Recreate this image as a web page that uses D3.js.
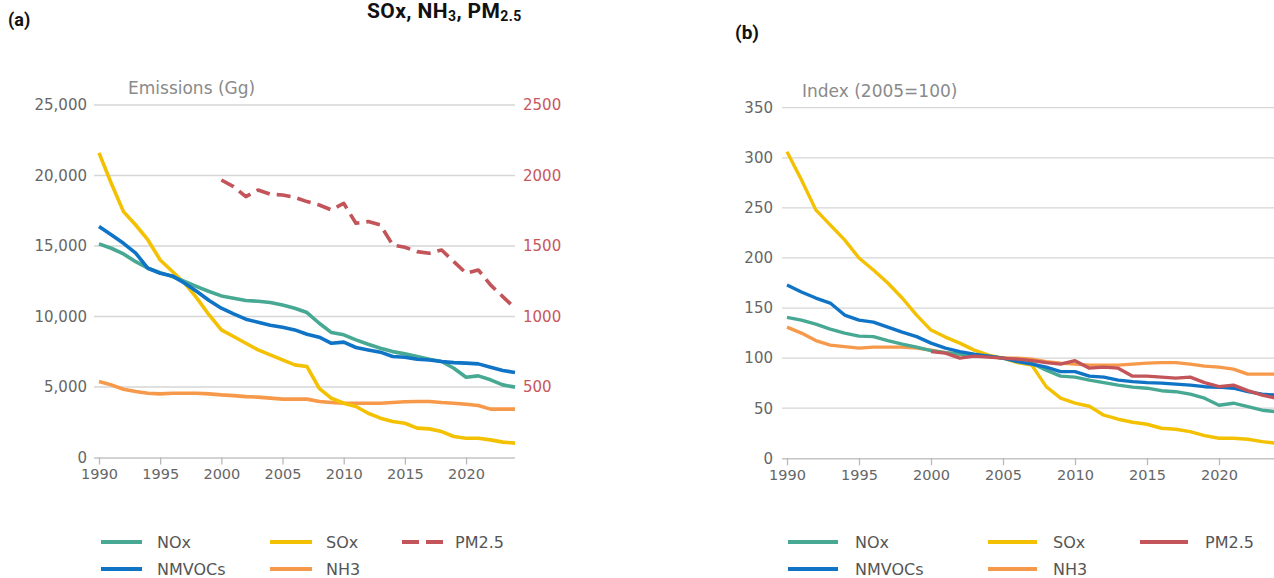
<!DOCTYPE html>
<html>
<head>
<meta charset="utf-8">
<script src="https://cdn.jsdelivr.net/npm/d3@7"></script>
<style>
  html, body { margin: 0; padding: 0; background: #ffffff; }
  svg { display: block; }
  text { font-family: "DejaVu Sans", sans-serif; }
</style>
</head>
<body>
<svg id="chart" width="1274" height="578"></svg>
<script>
// ---------- DATA ----------
const years = [1990,1991,1992,1993,1994,1995,1996,1997,1998,1999,2000,2001,2002,2003,2004,2005,2006,2007,2008,2009,2010,2011,2012,2013,2014,2015,2016,2017,2018,2019,2020,2021,2022,2023,2024];
const pmYears = [2000,2001,2002,2003,2004,2005,2006,2007,2008,2009,2010,2011,2012,2013,2014,2015,2016,2017,2018,2019,2020,2021,2022,2023,2024];

// Panel (a): emissions in Gg
const noxGg    = [15150,14840,14440,13890,13420,13110,12830,12480,12120,11770,11460,11300,11130,11080,10990,10820,10590,10280,9520,8860,8700,8340,8030,7750,7510,7350,7160,6970,6810,6330,5690,5790,5510,5150,4990];
const nmvocGg  = [16380,15790,15190,14490,13420,13070,12880,12360,11770,11130,10590,10180,9810,9590,9380,9240,9050,8740,8530,8100,8180,7800,7630,7470,7160,7110,6970,6920,6810,6730,6690,6640,6400,6170,6030];
const soxGg    = [21600,19450,17440,16490,15430,14010,13190,12360,11300,10110,9050,8580,8100,7630,7280,6920,6570,6450,4910,4200,3850,3620,3140,2790,2550,2430,2080,2030,1840,1490,1370,1370,1250,1090,1020];
const nh3Gg    = [5390,5150,4840,4680,4560,4510,4560,4560,4560,4510,4440,4390,4320,4280,4210,4140,4140,4140,3970,3900,3850,3850,3850,3850,3900,3950,3970,3970,3900,3850,3780,3690,3430,3430,3430];
const pm25Gg   = [1968,1921,1850,1897,1867,1862,1845,1815,1791,1756,1803,1661,1673,1649,1508,1491,1460,1449,1472,1389,1307,1330,1224,1141,1059];

// Panel (b): index 2005 = 100
const noxIdx   = [140.7,138,134,129,125,122,121.5,117.5,114,111,107.5,105.5,104,103,102,100,98,95,88,82,81,78,75.5,73,71,70,67.5,66.5,64,60,53,55,51.5,48,46.5];
const nmvocIdx = [173,166,160,155,143,138,136,131,126,121.5,115,110,106.5,104,102,100,96.5,94,91,86.5,86.5,82,81,78,76.5,75.5,75,74,73,71.5,71,70,66.5,64,63];
const soxIdx   = [306,278,248,233,218,200,188,175,160,143,128,121,115,108,103,100,95.5,93,71.5,60,55,52,43,39,36,34,30,29,26.6,22.6,20,20,19,16.6,15];
const nh3Idx   = [131,125,117.5,113,111.5,110,111,111,111,110,108,105.5,104,103,101.5,100,100,99,96.5,95,94,93,93,93,94,95,95.5,95.5,94,92,91,89,84,84,84];
const pm25Idx  = [106.5,105,100,102,101,100,99,97.5,95.5,94,97.5,90,91,90,82,82,81,80,81,75.5,71.5,73,67.5,63,60];

const xTicks = [1990,1995,2000,2005,2010,2015,2020];
const yTicksA = [0,5000,10000,15000,20000,25000];
const yTicksA2 = [500,1000,1500,2000,2500];
const yTicksB = [0,50,100,150,200,250,300,350];

const seriesNames = ["NOx","NMVOCs","SOx","NH3","PM2.5"];
const colors = {NOx:"#47a893", NMVOCs:"#0f73c6", SOx:"#f4c102", NH3:"#f7994a", "PM2.5":"#c2545a"};

// ---------- DRAW ----------
const svg = d3.select("#chart");

const gridColor = "#d6d6d6";
const labelColor = "#666666";

function drawPanel(cfg) {
  const g = svg.append("g");
  const x = d3.scaleLinear().domain([1990, 2024]).range(cfg.xRange);
  const y = d3.scaleLinear().domain(cfg.yDomain).range(cfg.yRange);

  // grid lines
  g.selectAll("line.grid").data(cfg.yTicks.filter(d => d !== 0)).enter().append("line")
    .attr("x1", cfg.gridX[0]).attr("x2", cfg.gridX[1])
    .attr("y1", d => y(d)).attr("y2", d => y(d))
    .attr("stroke", gridColor).attr("stroke-width", 1.3);

  // x axis
  const xAxis = d3.axisBottom(x).tickValues(xTicks).tickFormat(d3.format("d")).tickSize(7).tickPadding(4);
  const xg = g.append("g").attr("transform", `translate(0,${y(0)})`).call(xAxis);
  xg.select(".domain").attr("d", `M${cfg.gridX[0]},0.5H${cfg.gridX[1]}`).attr("stroke", "#c4c4c4").attr("stroke-width", 1.5);
  xg.selectAll(".tick line").attr("stroke", "#b8b8b8").attr("stroke-width", 1.3);
  xg.selectAll(".tick text").attr("fill", labelColor).style("font-size", "14.5px").style("font-family", "DejaVu Sans");

  // y axis left
  const yAxis = d3.axisLeft(y).tickValues(cfg.yTicks).tickFormat(cfg.yFormat).tickSize(0).tickPadding(0);
  const yg = g.append("g").attr("transform", `translate(${cfg.yLabelX},0)`).call(yAxis);
  yg.select(".domain").remove();
  yg.selectAll(".tick text").attr("fill", labelColor).style("font-size", "15px").style("font-family", "DejaVu Sans");

  // axis title
  g.append("text").attr("x", cfg.titleX).attr("y", cfg.titleY)
    .attr("fill", "#8a8a8a").style("font-size", "17px").text(cfg.title);

  return {g, x, y};
}

// Panel (a)
const pa = drawPanel({
  xRange: [99, 515], yDomain: [0, 25000], yRange: [457.5, 105],
  gridX: [94, 515], yTicks: yTicksA, yFormat: d3.format(","), yLabelX: 87,
  title: "Emissions (Gg)", titleX: 128, titleY: 94
});
const y2 = d3.scaleLinear().domain([0, 2500]).range([457.5, 105]);
const ry = d3.axisRight(y2).tickValues(yTicksA2).tickFormat(d3.format("d")).tickSize(0).tickPadding(0);
const ryg = pa.g.append("g").attr("transform", "translate(523,0)").call(ry);
ryg.select(".domain").remove();
ryg.selectAll(".tick text").attr("fill", "#c7575d").style("font-size", "15px").style("font-family", "DejaVu Sans");

function addLine(panel, xs, vals, color, yScale, dash, width) {
  const line = d3.line().x((d, i) => panel.x(xs[i])).y(d => yScale(d));
  panel.g.append("path").datum(vals)
    .attr("d", line).attr("fill", "none").attr("stroke", color)
    .attr("stroke-width", width).attr("stroke-linejoin", "round")
    .attr("stroke-dasharray", dash || null);
}

addLine(pa, years, nh3Gg, colors.NH3, pa.y, null, 3.6);
addLine(pa, years, soxGg, colors.SOx, pa.y, null, 3.6);
addLine(pa, years, noxGg, colors.NOx, pa.y, null, 3.6);
addLine(pa, years, nmvocGg, colors.NMVOCs, pa.y, null, 3.6);
addLine(pa, pmYears, pm25Gg, colors["PM2.5"], y2, "14,7", 3.6);

// Panel (b)
const pb = drawPanel({
  xRange: [787, 1276.6], yDomain: [0, 350], yRange: [458.3, 107.7],
  gridX: [782, 1274], yTicks: yTicksB, yFormat: d3.format("d"), yLabelX: 773,
  title: "Index (2005=100)", titleX: 802, titleY: 97
});
addLine(pb, years, nh3Idx, colors.NH3, pb.y, null, 3.4);
addLine(pb, years, soxIdx, colors.SOx, pb.y, null, 3.4);
addLine(pb, years, noxIdx, colors.NOx, pb.y, null, 3.4);
addLine(pb, years, nmvocIdx, colors.NMVOCs, pb.y, null, 3.4);
addLine(pb, pmYears, pm25Idx, colors["PM2.5"], pb.y, null, 3.4);

// Legends
function legend(items) {
  items.forEach(it => {
    svg.append("line").attr("x1", it.x1).attr("x2", it.x2).attr("y1", it.y).attr("y2", it.y)
      .attr("stroke", colors[it.name]).attr("stroke-width", 4)
      .attr("stroke-dasharray", it.dash || null);
    svg.append("text").attr("x", it.tx).attr("y", it.y).attr("dy", "0.35em")
      .attr("fill", "#555555").style("font-size", "16px").text(it.name);
  });
}
legend([
  {name: "NOx", x1: 101, x2: 142, y: 542, tx: 157},
  {name: "NMVOCs", x1: 101, x2: 142, y: 569, tx: 157},
  {name: "SOx", x1: 270, x2: 312, y: 542, tx: 326},
  {name: "NH3", x1: 270, x2: 312, y: 569, tx: 326},
  {name: "PM2.5", x1: 402, x2: 443, y: 542, tx: 455, dash: "17,7"}
]);
legend([
  {name: "NOx", x1: 788, x2: 838, y: 542, tx: 855},
  {name: "NMVOCs", x1: 788, x2: 838, y: 569, tx: 855},
  {name: "SOx", x1: 988, x2: 1037, y: 542, tx: 1053},
  {name: "NH3", x1: 988, x2: 1037, y: 569, tx: 1053},
  {name: "PM2.5", x1: 1140, x2: 1188, y: 542, tx: 1205}
]);

// Panel labels and heading
svg.append("text").attr("x", 8).attr("y", 26).style("font-family", "Roboto").style("font-weight", "bold")
  .style("font-size", "18px").attr("fill", "#111").text("(a)");
svg.append("text").attr("x", 735).attr("y", 39).style("font-family", "Roboto").style("font-weight", "bold")
  .style("font-size", "19px").attr("fill", "#111").text("(b)");

const head = svg.append("text").attr("x", 367).attr("y", 18).style("font-family", "Roboto")
  .style("font-weight", "bold").style("font-size", "21px").style("letter-spacing", "0.4px").attr("fill", "#111");
head.append("tspan").text("SOx, NH");
head.append("tspan").attr("dy", 3).style("font-size", "14px").text("3");
head.append("tspan").attr("dy", -3).text(", PM");
head.append("tspan").attr("dy", 3).style("font-size", "14px").text("2.5");
</script>
</body>
</html>
